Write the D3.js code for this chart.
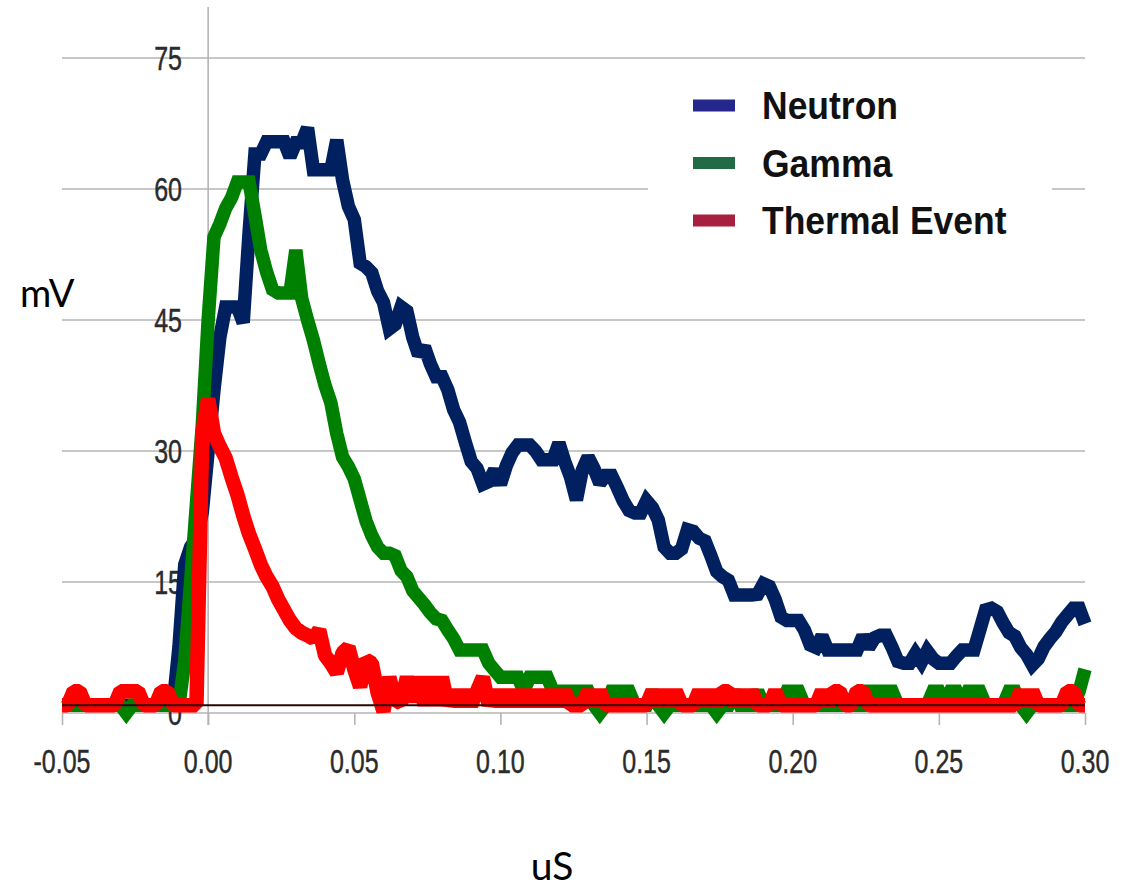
<!DOCTYPE html>
<html>
<head>
<meta charset="utf-8">
<script src="https://cdn.jsdelivr.net/npm/d3@7"></script>
<style>
  html, body { margin: 0; padding: 0; background: #fff; }
  svg { display: block; }
</style>
</head>
<body>
<svg id="chart" width="1127" height="888"></svg>
<script>
// Pulse-shape traces (mV) sampled every 2 ns from -0.05 us to 0.30 us
const sampleStart = -0.05;   // us
const sampleStep = 0.002;    // us

const neutron = [
  0.9,0.9,0.9,0.9,0.9,0.9,0.9,0.9,0.9,0.9,
  0.9,0.9,0.9,0.9,0.9,0.9,0.9,0.9,0.9,0.9,
  7.5,17,19,20,23,30,37,43,46.5,46.5,
  46.5,44.7,55,64,64,65.4,65.4,65.4,65.4,63.7,
  65.3,65.3,67,62.2,62.2,62.2,62.2,65.6,61,58,
  56.5,51.5,51.1,50.4,48.3,47,44,44.5,46.5,46,
  43,41,41.9,40,38.5,38.5,37,34.7,33.3,31,
  28.8,28,26.2,26.5,27.8,26.2,28.3,29.8,30.7,30.7,
  30.7,30,29,29,29,30.9,28.8,27,24.4,27.8,
  29.3,28,26.3,27.2,27.2,25.8,24.3,23.2,22.9,22.9,
  24.3,23.5,22.1,19,18.3,18.3,18.8,21,20.8,20,
  19.7,18,16.2,15.6,15.2,13.5,13.5,13.5,13.5,13.6,
  14.8,14.5,13,11,10.6,10.6,10.6,9.5,7.8,7.5,
  8.8,7.2,7.2,7.2,7.2,7.2,7.2,8.8,7.5,8.6,
  8.9,8.9,7.5,5.9,5.7,5.7,6.8,5.8,7.1,6.2,
  5.7,5.7,5.7,6.5,7.2,7.2,7.2,9.5,11.8,12,
  11.6,10.3,9.2,8.8,7.5,6.7,5.5,6.2,7.6,8.5,
  9.3,10.4,11.2,12,12,10.2
];

const gamma = [
  0.9,0.9,0.9,0.9,0.9,0.9,0.9,0.9,0.9,0.9,
  0.9,0,0.9,0.9,0.9,0.9,0.9,0.9,0.9,0.9,
  0.9,6,15,24,33,45,54.5,56,57.8,59,
  60.8,60.8,60.8,57,53,50.5,48.5,48.1,48.1,48.1,
  53,47.5,45,42.7,40,37.5,35.5,32,29.3,28.2,
  26.8,24.4,22,20.3,19,18.3,18.3,18,16.3,15.6,
  14,13.2,12.4,11.5,10.8,10.6,9.5,8.5,7.2,7.2,
  7.2,7.2,7.2,5.7,4.9,4.1,4.1,4.1,4.1,2.5,
  4.1,4.1,4.1,4.1,2.5,2.5,2.5,2.5,2.5,2.5,
  2.5,0.9,0,0.9,2.5,2.5,2.5,2.5,0.9,0.9,
  0.9,2.5,0.9,0,0.9,0.9,0.9,0.9,0.9,0.9,
  0.9,0.9,0,0.9,0.9,2.5,0.9,0.9,0.9,2.5,
  0.9,0.9,0.9,0.9,2.5,2.5,2.5,0.9,0.9,0.9,
  0.9,0.9,0.9,0.9,0.9,0.9,0.9,0.9,2.5,2.5,
  2.5,2.5,2.5,0.9,0.9,0.9,0.9,0.9,0.9,2.5,
  2.5,0.9,2.5,2.5,0.9,2.5,2.5,2.5,0.9,0.9,
  0.9,0.9,2.5,2.5,0.9,0,0.9,0.9,0.9,0.9,
  0.9,0.9,0.9,0.9,2.5,5
];

const thermal = [
  0.9,0.9,2.5,2.5,0.9,0.9,0.9,0.9,0.9,0.9,
  2.5,2.5,2.5,2.5,0.9,0.9,0.9,2.5,2.5,0.9,
  0.9,0.9,0.9,0.9,32,36,32,30.5,29.2,27,
  25,22.6,20.5,18.8,17,15.6,14.5,13,11.8,10.6,
  9.7,9.2,8.9,8.5,9.5,6.6,5.7,4.6,6.9,7.5,
  5,3,6.1,5.7,2.3,0.2,4.1,1.5,1.1,4.1,
  1.3,4.1,0.9,4.1,0.9,4.1,0.9,2.5,0.9,2.5,
  0.9,2.5,4.1,0.9,2.5,0.9,2.5,0.9,2.5,0.9,
  2.5,0.9,2.5,0.9,2.5,0.9,2.5,0.9,0.9,0.9,
  2.5,0.9,2.5,0.9,0.9,0.9,0.9,0.9,0.9,0.9,
  0.9,2.5,0.9,2.5,0.9,2.5,0.9,0.9,0.9,2.5,
  0.9,2.5,0.9,2.5,2.5,0.9,2.5,0.9,2.5,0.9,
  0.9,0.9,2.5,0.9,0.9,0.9,0.9,0.9,0.9,0.9,
  2.5,0.9,2.5,2.5,0.9,0.9,2.5,2.5,0.9,0.9,
  0.9,0.9,0.9,0.9,0.9,0.9,0.9,0.9,0.9,0.9,
  0.9,0.9,0.9,0.9,0.9,0.9,0.9,0.9,0.9,0.9,
  0.9,0.9,0.9,0.9,2.5,0.9,2.5,0.9,0.9,0.9,
  0.9,0.9,2.5,2.5,0.9,0.9
];

// Recorder offset level drawn as a thin trace over the baseline noise
const offsetLevel = 0.9;

const xTicks = [-0.05, 0, 0.05, 0.10, 0.15, 0.20, 0.25, 0.30];
const xTickLabels = ["-0.05", "0.00", "0.05", "0.10", "0.15", "0.20", "0.25", "0.30"];
const yTicks = [0, 15, 30, 45, 60, 75];
const yTickLabels = ["0", "15", "30", "45", "60", "75"];

const seriesNames = ["Neutron", "Gamma", "Thermal Event"];
const lineColors = ["#002060", "#008000", "#ff0000"];
const legendColors = ["#25278c", "#236b45", "#a8203f"];

const svg = d3.select("#chart");

const x = d3.scaleLinear().domain([-0.05, 0.30]).range([62, 1085]);
const y = d3.scaleLinear().domain([0, 75]).range([713, 58]);

const times = d3.range(neutron.length).map(i => sampleStart + i * sampleStep);

// Horizontal gridlines
svg.append("g")
  .selectAll("line")
  .data(yTicks)
  .join("line")
  .attr("x1", x(-0.05)).attr("x2", x(0.30))
  .attr("y1", d => y(d)).attr("y2", d => y(d))
  .attr("stroke", "#b4b4b4").attr("stroke-width", 1.6);

// Vertical axis line at t = 0
svg.append("line")
  .attr("x1", x(0)).attr("x2", x(0))
  .attr("y1", 7).attr("y2", y(0) + 12)
  .attr("stroke", "#b4b4b4").attr("stroke-width", 1.6);

// X axis ticks
const xAxis = d3.axisBottom(x).tickValues(xTicks).tickSize(12).tickFormat(() => "");
const gx = svg.append("g").attr("transform", `translate(0,${y(0)})`).call(xAxis);
gx.select(".domain").remove();
gx.selectAll(".tick line").attr("stroke", "#b4b4b4").attr("stroke-width", 1.6);

const labelFont = "'Liberation Sans', Arial, sans-serif";

// X tick labels
svg.append("g")
  .selectAll("text")
  .data(xTicks)
  .join("text")
  .attr("transform", d => `translate(${x(d)},773) scale(1,1.3)`)
  .attr("text-anchor", "middle")
  .attr("font-family", labelFont)
  .attr("font-size", 25)
  .attr("fill", "#2b2b2b")
  .attr("stroke", "#2b2b2b").attr("stroke-width", 0.35)
  .text((d, i) => xTickLabels[i]);

// Y tick labels
svg.append("g")
  .selectAll("text")
  .data(yTicks)
  .join("text")
  .attr("transform", d => `translate(182,${y(d) + 11.6}) scale(1,1.3)`)
  .attr("text-anchor", "end")
  .attr("font-family", labelFont)
  .attr("font-size", 25)
  .attr("fill", "#2b2b2b")
  .attr("stroke", "#2b2b2b").attr("stroke-width", 0.35)
  .text((d, i) => yTickLabels[i]);

// Legend
const legend = svg.append("g");
legend.append("rect")
  .attr("x", 648).attr("y", 70).attr("width", 404).attr("height", 180)
  .attr("fill", "#fff");
const legendRows = [105.5, 163, 220.5];
seriesNames.forEach((name, i) => {
  legend.append("rect")
    .attr("x", 693).attr("y", legendRows[i] - 6)
    .attr("width", 42).attr("height", 12)
    .attr("fill", legendColors[i]);
  legend.append("text")
    .attr("transform", `translate(762,${legendRows[i] + 13.8}) scale(1,1.09)`)
    .attr("font-family", labelFont)
    .attr("font-weight", "bold")
    .attr("font-size", 35.5)
    .attr("fill", "#111")
    .text(name);
});

// Traces
const line = d3.line()
  .x((d, i) => x(times[i]))
  .y(d => y(d));

const traces = [neutron, gamma, thermal];
const widths = [13.5, 13.5, 14.5];
const joins = ["miter", "miter", "bevel"];
traces.forEach((vals, k) => {
  svg.append("path")
    .datum(vals)
    .attr("d", line)
    .attr("fill", "none")
    .attr("stroke", lineColors[k])
    .attr("stroke-width", widths[k])
    .attr("stroke-linejoin", joins[k])
    .attr("stroke-miterlimit", 2);
});

// Offset trace
svg.append("line")
  .attr("x1", x(-0.05)).attr("x2", x(0.30))
  .attr("y1", y(offsetLevel)).attr("y2", y(offsetLevel))
  .attr("stroke", "#2a0505").attr("stroke-width", 2);

// Axis titles
svg.append("text")
  .attr("x", 20).attr("y", 307)
  .attr("font-family", "Lato, 'Open Sans', sans-serif")
  .attr("font-size", 38)
  .attr("fill", "#000")
  .text("mV");

svg.append("text")
  .attr("x", 552).attr("y", 880)
  .attr("text-anchor", "middle")
  .attr("font-family", "Lato, 'Open Sans', sans-serif")
  .attr("font-size", 39)
  .attr("fill", "#000")
  .text("uS");
</script>
</body>
</html>
